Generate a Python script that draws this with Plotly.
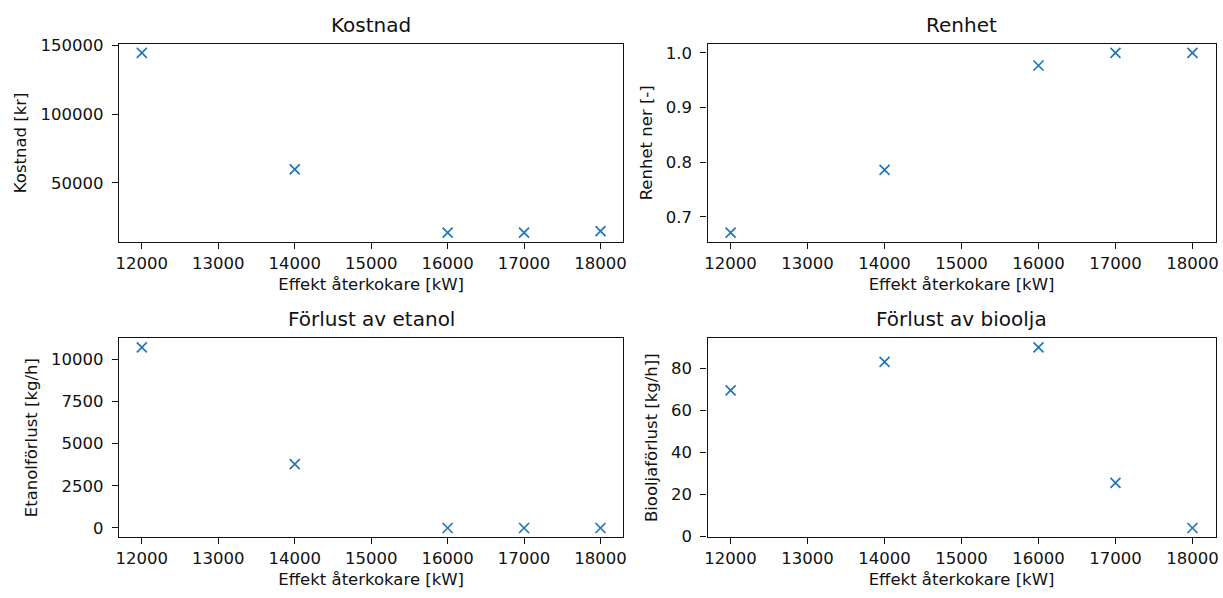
import plotly.graph_objects as go
from plotly.subplots import make_subplots

# Data
effekt = [12000, 14000, 16000, 17000, 18000]
kostnad = [144600, 59700, 13600, 13600, 14800]
renhet = [0.671, 0.786, 0.977, 1.0, 1.0]
etanol_forlust = [10714, 3793, 0, 0, 0]
bioolja_forlust = [69.4, 83.0, 89.9, 25.4, 3.9]

titles = ["Kostnad", "Renhet", "Förlust av etanol", "Förlust av bioolja"]
ylabels = ["Kostnad [kr]", "Renhet ner [-]", "Etanolförlust [kg/h]", "Biooljaförlust [kg/h]]"]
xlabel = "Effekt återkokare [kW]"
xticks = [12000, 13000, 14000, 15000, 16000, 17000, 18000]
yticks = [
    [50000, 100000, 150000],
    [0.7, 0.8, 0.9, 1.0],
    [0, 2500, 5000, 7500, 10000],
    [0, 20, 40, 60, 80],
]
yfmt = ["d", ".1f", "d", "d"]
series = [kostnad, renhet, etanol_forlust, bioolja_forlust]

W, H = 1223, 598
# frame pixel boxes (left, right, top, bottom)
boxes = [
    (116.5, 623.5, 37, 240.5),
    (708, 1218.5, 37, 240.5),
    (116.5, 623.5, 340, 544.5),
    (708, 1218.5, 340, 544.5),
]

def mpl_range(vals):
    lo, hi = min(vals), max(vals)
    m = (hi - lo) * 0.05
    return [lo - m, hi + m]

fig = make_subplots(rows=2, cols=2)
font_family = "DejaVu Sans"
blue = "#1f77b4"
fs = 16.5
ink = "#111111"

for i in range(4):
    r, c = i // 2 + 1, i % 2 + 1
    fig.add_trace(go.Scatter(
        x=effekt, y=series[i], mode="markers",
        marker=dict(symbol="x-thin", size=10, line=dict(width=1.7, color=blue), color=blue),
        showlegend=False, hoverinfo="x+y"), row=r, col=c)
    L, R, T, B = boxes[i]
    xd = [L / W, R / W]
    yd = [1 - B / H, 1 - T / H]
    axis_common = dict(showline=True, mirror=True, linecolor=ink, linewidth=1.3,
                       ticks="outside", ticklen=6, tickwidth=1.3, tickcolor=ink,
                       showgrid=False, zeroline=False,
                       tickfont=dict(family=font_family, size=fs, color=ink))
    fig.update_xaxes(domain=xd, range=mpl_range(effekt), tickvals=xticks, tickformat="d",
                     title=dict(text=xlabel, font=dict(family=font_family, size=fs, color=ink), standoff=6),
                     row=r, col=c, **axis_common)
    fig.update_yaxes(domain=yd, range=mpl_range(series[i]), tickvals=yticks[i], tickformat=yfmt[i],
                     ticklabelstandoff=5,
                     title=dict(text=ylabels[i], font=dict(family=font_family, size=fs, color=ink), standoff=9),
                     row=r, col=c, **axis_common)
    fig.add_annotation(x=(L + R) / 2 / W, y=1 - (T - 5) / H, xref="paper", yref="paper",
                       text=titles[i], showarrow=False, xanchor="center", yanchor="bottom",
                       font=dict(family=font_family, size=20, color=ink))

fig.update_layout(width=W, height=H, margin=dict(l=0, r=0, t=0, b=0),
                  paper_bgcolor="white", plot_bgcolor="white",
                  font=dict(family=font_family, color=ink))
fig.write_html("out.html")
